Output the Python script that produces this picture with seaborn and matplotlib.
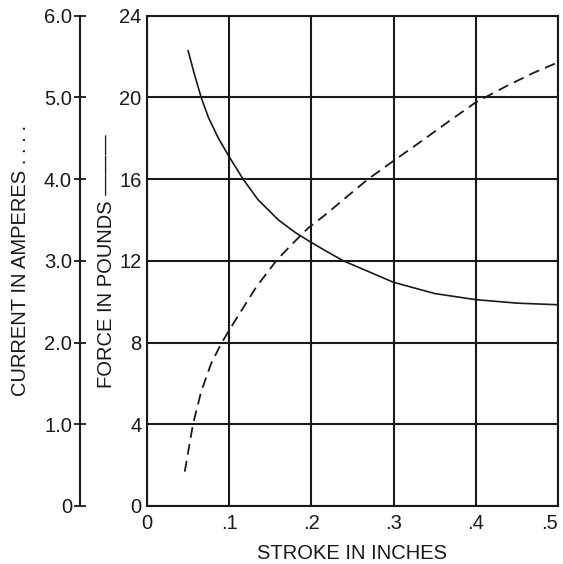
import numpy as np
import pandas as pd
import matplotlib
matplotlib.use("Agg")
import matplotlib.pyplot as plt
import seaborn as sns

# values
force_stroke = [0.05, 0.058, 0.066, 0.075, 0.087, 0.10, 0.117, 0.135, 0.16, 0.18, 0.20,
                0.22, 0.239, 0.30, 0.35, 0.40, 0.45, 0.50]
force_lbs = [22.3, 21.1, 20.0, 19.0, 18.0, 17.1, 16.0, 15.0, 14.0, 13.4, 12.9,
             12.43, 12.0, 10.95, 10.4, 10.1, 9.93, 9.85]

current_stroke = [0.046, 0.056, 0.066, 0.078, 0.09, 0.10, 0.113, 0.123, 0.133, 0.158, 0.178,
                  0.196, 0.219, 0.239, 0.269, 0.298, 0.336, 0.369, 0.40, 0.4375, 0.47, 0.50]
current_amps = [0.42, 1.0, 1.4, 1.74, 1.98, 2.15, 2.36, 2.52, 2.68, 3.01, 3.22,
                3.4, 3.58, 3.75, 4.0, 4.21, 4.48, 4.72, 4.94, 5.14, 5.3, 5.43]

x_ticks = [0, 0.1, 0.2, 0.3, 0.4, 0.5]
x_labels = ["0", ".1", ".2", ".3", ".4", ".5"]
force_ticks = [0, 4, 8, 12, 16, 20, 24]
current_ticks = [0, 1, 2, 3, 4, 5, 6]
current_labels = ["0", "1.0", "2.0", "3.0", "4.0", "5.0", "6.0"]

sns.set_style("white")
plt.rcParams["font.family"] = ["Liberation Sans", "DejaVu Sans"]
ink = "#1a1a1a"
fs = 14.5

fig = plt.figure(figsize=(5.63, 5.64), dpi=100)
ax = fig.add_axes([0.261, 0.103, 0.730, 0.869])

df_force = pd.DataFrame({"stroke": force_stroke, "force": force_lbs})
sns.lineplot(data=df_force, x="stroke", y="force", ax=ax, color=ink, linewidth=1.2)
ax.lines[-1].set_solid_joinstyle("round")

ax.set_xlim(0, 0.5)
ax.set_ylim(0, 24)
ax.set_xticks(x_ticks)
ax.set_xticklabels(x_labels)
ax.get_xticklabels()[-1].set_ha("right")
ax.set_yticks(force_ticks)
ax.grid(True, color=ink, linewidth=1.5)
ax.set_axisbelow(True)
for s in ax.spines.values():
    s.set_color(ink)
    s.set_linewidth(1.5)
ax.tick_params(length=0, labelsize=fs, colors=ink)
ax.tick_params(axis="y", pad=4)
ax.tick_params(axis="x", pad=6)
ax.set_xlabel("STROKE IN INCHES", fontsize=fs, color=ink, labelpad=8)
ax.set_ylabel("FORCE IN POUNDS ———", fontsize=fs, color=ink, labelpad=2)

# current axis on the far left
ax2 = ax.twinx()
df_cur = pd.DataFrame({"stroke": current_stroke, "current": current_amps})
sns.lineplot(data=df_cur, x="stroke", y="current", ax=ax2, color=ink,
             linewidth=1.3, dashes=False, linestyle=(0, (6, 3.5)))
ax2.set_ylim(0, 6)
ax2.set_yticks(current_ticks)
ax2.set_yticklabels(current_labels)
ax2.spines["left"].set_position(("outward", 48))
ax2.spines["left"].set_visible(True)
ax2.spines["left"].set_color(ink)
ax2.spines["left"].set_linewidth(1.5)
for side in ["right", "top", "bottom"]:
    ax2.spines[side].set_visible(False)
ax2.yaxis.set_ticks_position("left")
ax2.yaxis.set_label_position("left")
ax2.tick_params(axis="y", direction="inout", length=8, width=1.3, pad=2,
                labelsize=fs, colors=ink)
ax2.set_ylabel("CURRENT IN AMPERES . . . .", fontsize=fs, color=ink, labelpad=10)
ax2.grid(False)

fig.savefig("out.png", dpi=100)
